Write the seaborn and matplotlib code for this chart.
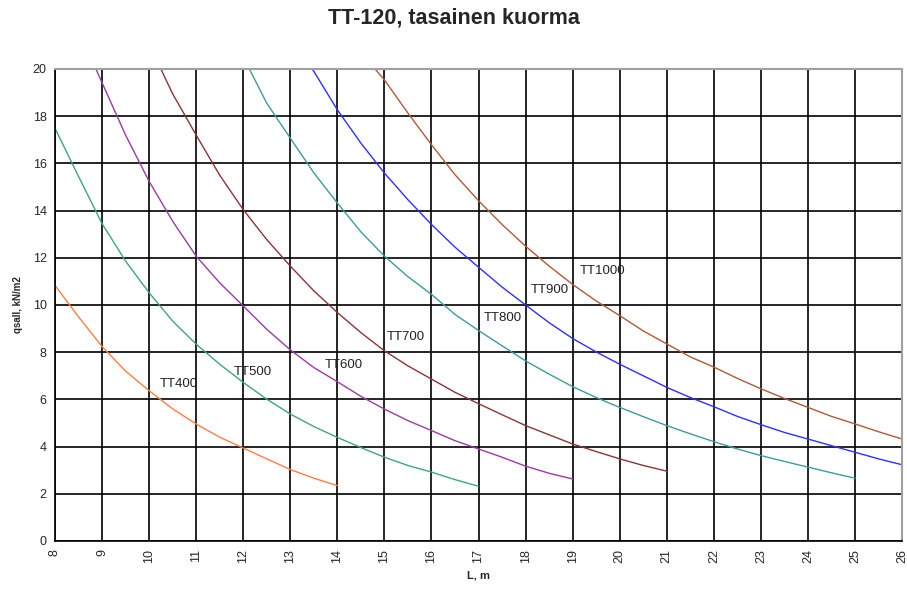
import matplotlib
matplotlib.use("Agg")
import matplotlib.pyplot as plt
from matplotlib.ticker import MultipleLocator
import pandas as pd
import seaborn as sns

# values (L in m, q in kN/m2)
tt400_L = [8, 8.5, 9, 9.5, 10, 10.5, 11, 11.5, 12, 12.5, 13, 13.5, 14]
tt400_q = [10.83, 9.5, 8.24, 7.2, 6.37, 5.6, 4.96, 4.4, 3.94, 3.48, 3.03, 2.66, 2.35]

tt500_L = [8, 8.5, 9, 9.5, 10, 10.5, 11, 11.5, 12, 12.5, 13, 13.5, 14, 14.5, 15, 15.5, 16, 16.5, 17]
tt500_q = [17.49, 15.45, 13.45, 11.86, 10.52, 9.32, 8.34, 7.49, 6.72, 6.01, 5.38, 4.85, 4.39,
           3.96, 3.55, 3.2, 2.92, 2.6, 2.32]

tt600_L = [8.87, 9, 9.5, 10, 10.5, 11, 11.5, 12, 12.5, 13, 13.5, 14, 14.5, 15, 15.5, 16, 16.5,
           17, 17.5, 18, 18.5, 19]
tt600_q = [20.0, 19.42, 17.2, 15.24, 13.55, 12.07, 10.94, 9.96, 8.97, 8.1, 7.35, 6.75, 6.13,
           5.59, 5.1, 4.68, 4.25, 3.9, 3.55, 3.17, 2.87, 2.63]

tt700_L = [10.25, 10.5, 11, 11.5, 12, 12.5, 13, 13.5, 14, 14.5, 15, 15.5, 16, 16.5, 17, 17.5,
           18, 18.5, 19, 19.5, 20, 20.5, 21]
tt700_q = [20.0, 18.95, 17.2, 15.5, 14.04, 12.77, 11.65, 10.6, 9.68, 8.83, 8.06, 7.42, 6.86,
           6.3, 5.82, 5.35, 4.89, 4.5, 4.11, 3.79, 3.48, 3.2, 2.96]

tt800_L = [12.13, 12.5, 13, 13.5, 14, 14.5, 15, 15.5, 16, 16.5, 17, 17.5, 18, 18.5, 19, 19.5,
           20, 20.5, 21, 21.5, 22, 22.5, 23, 23.5, 24, 24.5, 25]
tt800_q = [20.0, 18.55, 17.07, 15.6, 14.32, 13.1, 12.07, 11.2, 10.45, 9.6, 8.92, 8.27, 7.63,
           7.07, 6.54, 6.08, 5.66, 5.27, 4.89, 4.54, 4.21, 3.9, 3.62, 3.37, 3.13, 2.89, 2.66]

tt900_L = [13.46, 13.5, 14, 14.5, 15, 15.5, 16, 16.5, 17, 17.5, 18, 18.5, 19, 19.5, 20, 20.5,
           21, 21.5, 22, 22.5, 23, 23.5, 24, 24.5, 25, 25.5, 26]
tt900_q = [20.0, 19.9, 18.27, 16.86, 15.59, 14.46, 13.41, 12.45, 11.6, 10.76, 10.0, 9.25, 8.58,
           8.01, 7.49, 7.0, 6.51, 6.08, 5.69, 5.28, 4.93, 4.6, 4.32, 4.04, 3.76, 3.48, 3.23]

tt1000_L = [14.8, 15, 15.5, 16, 16.5, 17, 17.5, 18, 18.5, 19, 19.5, 20, 20.5, 21, 21.5, 22,
            22.5, 23, 23.5, 24, 24.5, 25, 25.5, 26]
tt1000_q = [20.0, 19.54, 18.13, 16.79, 15.52, 14.42, 13.41, 12.49, 11.65, 10.87, 10.17, 9.55,
            8.9, 8.35, 7.8, 7.37, 6.89, 6.45, 6.04, 5.66, 5.28, 4.96, 4.63, 4.32]

names = ["TT400", "TT500", "TT600", "TT700", "TT800", "TT900", "TT1000"]
colors = ["#FF7F45", "#3FA876", "#9A3CA3", "#8A3535", "#3A9E9A", "#3030FF", "#B05A38"]

# label anchor points (left edge of the text)
label_L = [10.23, 11.8, 13.74, 15.05, 17.12, 18.1, 19.16]
label_q = [6.65, 7.16, 7.46, 8.64, 9.45, 10.64, 11.44]

series = [(tt400_L, tt400_q), (tt500_L, tt500_q), (tt600_L, tt600_q), (tt700_L, tt700_q),
          (tt800_L, tt800_q), (tt900_L, tt900_q), (tt1000_L, tt1000_q)]
df = pd.concat(
    [pd.DataFrame({"L": L, "q": q, "series": n}) for n, (L, q) in zip(names, series)],
    ignore_index=True,
)

sns.set_style("white")
plt.rcParams["font.family"] = ["Liberation Sans", "DejaVu Sans"]

fig = plt.figure(figsize=(9.07, 5.89), dpi=100)
ax = fig.add_axes([0.0606, 0.0815, 0.934, 0.8014])

sns.lineplot(data=df, x="L", y="q", hue="series", palette=dict(zip(names, colors)),
             estimator=None, sort=False, legend=False, linewidth=1.0, ax=ax)

for n, x, y in zip(names, label_L, label_q):
    ax.text(x, y, n, fontsize=9.5, va="center", ha="left", color="#222222")

ax.set_xlim(8, 26)
ax.set_ylim(0, 20)
ax.xaxis.set_major_locator(MultipleLocator(1))
ax.xaxis.set_minor_locator(MultipleLocator(0.5))
ax.yaxis.set_major_locator(MultipleLocator(2))
ax.grid(True, which="major", color="black", linewidth=1.2)
ax.set_axisbelow(True)

for side in ["left", "bottom"]:
    ax.spines[side].set_color("black")
    ax.spines[side].set_linewidth(1.2)
for side in ["top", "right"]:
    ax.spines[side].set_color("#A0A0A0")
    ax.spines[side].set_linewidth(1.5)

ax.tick_params(axis="x", which="major", direction="inout", length=7, width=1.1,
               labelsize=9, labelrotation=90, pad=2)
ax.tick_params(axis="x", which="minor", direction="in", length=3, width=1)
ax.tick_params(axis="y", which="major", direction="out", length=4, width=1.1, labelsize=9, pad=2)

ax.set_xlabel("L, m", fontsize=8, fontweight="bold", labelpad=6)
ax.set_ylabel("qsall, kN/m2", fontsize=7, fontweight="bold", labelpad=7)
fig.suptitle("TT-120, tasainen kuorma", fontsize=15.5, fontweight="bold", y=0.988)

fig.savefig("out.png", dpi=100)
plt.close(fig)
